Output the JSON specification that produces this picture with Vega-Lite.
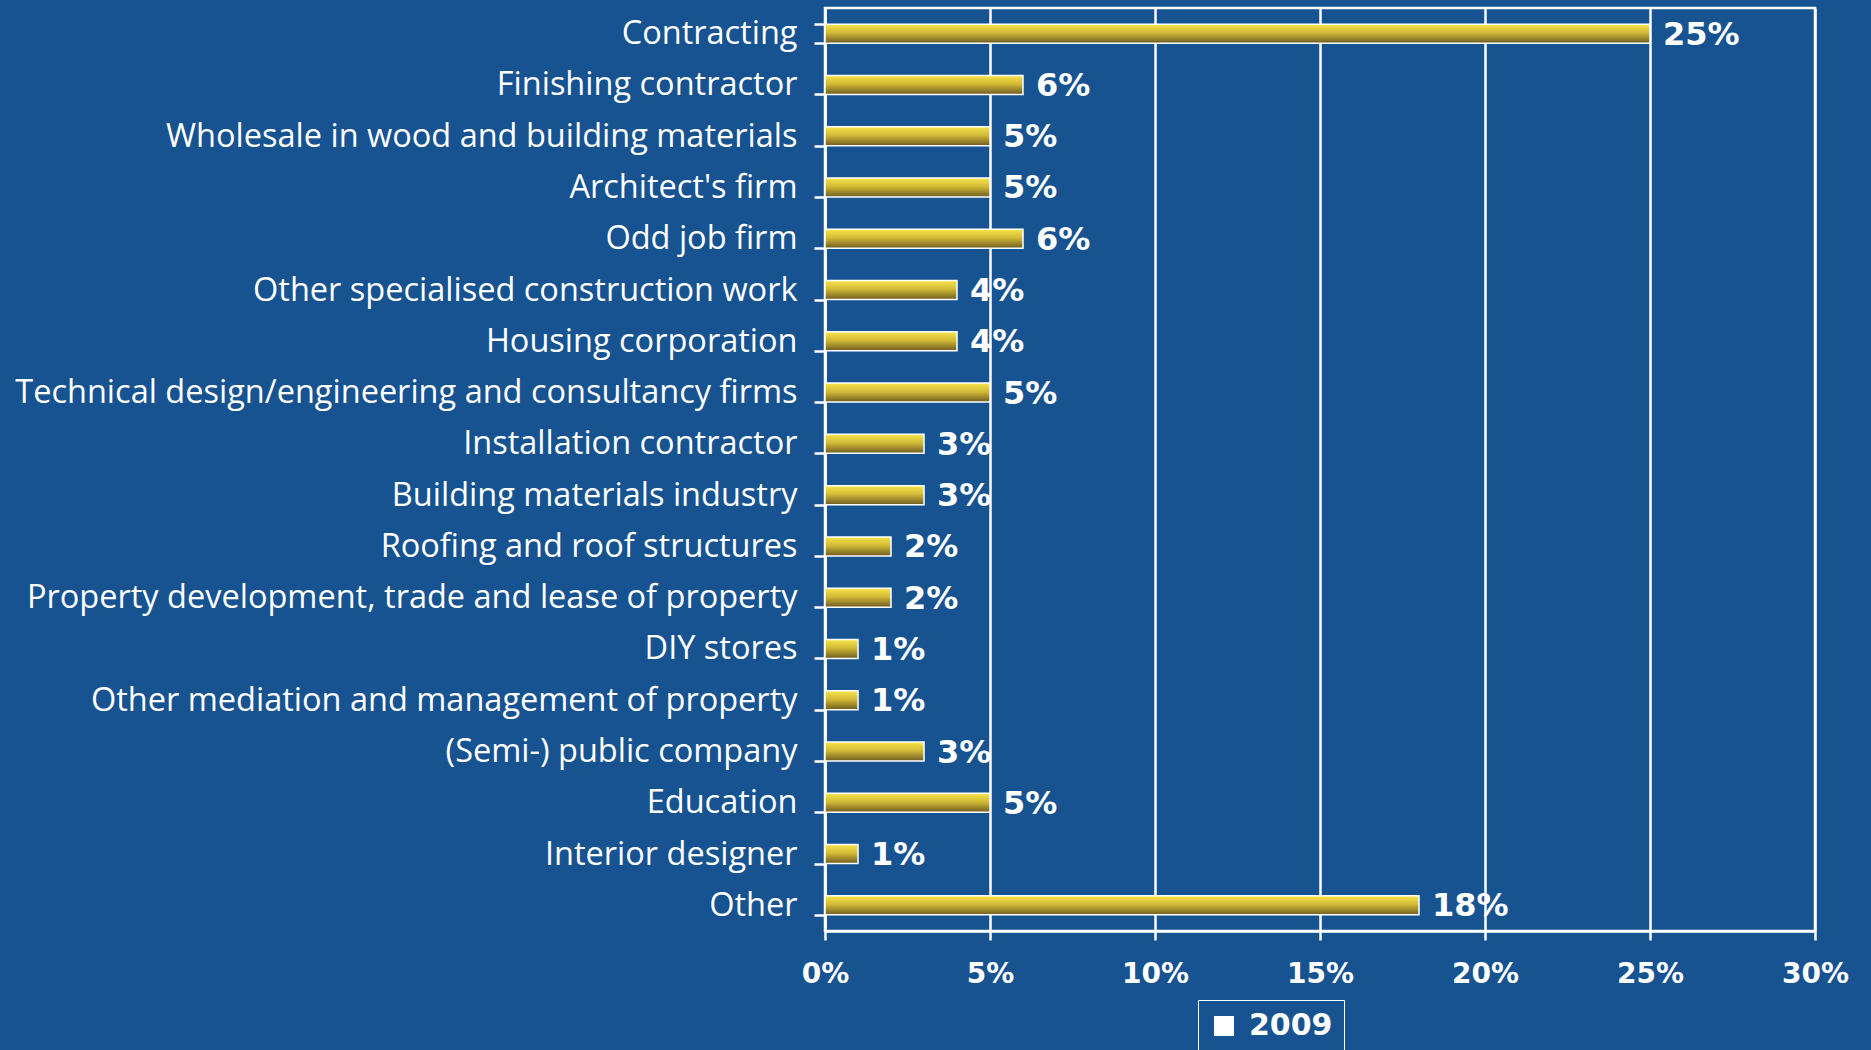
{
  "$schema": "https://vega.github.io/schema/vega-lite/v6.json",
  "width": 990,
  "height": 923,
  "autosize": "none",
  "padding": {"left": 825, "top": 8, "right": 56, "bottom": 119},
  "background": "#175291",
  "config": {
    "view": {"stroke": "white", "strokeWidth": 2.5},
    "axis": {"domainColor": "white", "domainWidth": 2.5, "tickColor": "white", "tickWidth": 2.5, "labelColor": "white"}
  },
  "data": {
    "values": [
      {"category": "Contracting", "value": 0.25, "year": "2009"},
      {"category": "Finishing contractor", "value": 0.06, "year": "2009"},
      {"category": "Wholesale in wood and building materials", "value": 0.05, "year": "2009"},
      {"category": "Architect's firm", "value": 0.05, "year": "2009"},
      {"category": "Odd job firm", "value": 0.06, "year": "2009"},
      {"category": "Other specialised construction work", "value": 0.04, "year": "2009"},
      {"category": "Housing corporation", "value": 0.04, "year": "2009"},
      {"category": "Technical design/engineering and consultancy firms", "value": 0.05, "year": "2009"},
      {"category": "Installation contractor", "value": 0.03, "year": "2009"},
      {"category": "Building materials industry", "value": 0.03, "year": "2009"},
      {"category": "Roofing and roof structures", "value": 0.02, "year": "2009"},
      {"category": "Property development, trade and lease of property", "value": 0.02, "year": "2009"},
      {"category": "DIY stores\u00a0", "value": 0.01, "year": "2009"},
      {"category": "Other mediation and management of property", "value": 0.01, "year": "2009"},
      {"category": "(Semi-) public company", "value": 0.03, "year": "2009"},
      {"category": "Education", "value": 0.05, "year": "2009"},
      {"category": "Interior designer", "value": 0.01, "year": "2009"},
      {"category": "Other", "value": 0.18, "year": "2009"}
    ]
  },
  "encoding": {
    "y": {
      "field": "category",
      "type": "nominal",
      "sort": null,
      "scale": {"paddingInner": 0.63, "paddingOuter": 0.315},
      "axis": {
        "title": null,
        "tickBand": "extent",
        "tickSize": 11,
        "labelPadding": 17,
        "labelFont": "Open Sans",
        "labelFontSize": 32.5,
        "labelLimit": 1000,
        "grid": false
      }
    },
    "x": {
      "field": "value",
      "type": "quantitative",
      "scale": {"domain": [0, 0.3], "nice": false},
      "axis": {
        "title": null,
        "values": [0, 0.05, 0.1, 0.15, 0.2, 0.25, 0.3],
        "format": ".0%",
        "grid": true,
        "gridColor": "white",
        "gridWidth": 2.5,
        "gridOpacity": 1,
        "tickSize": 9,
        "labelPadding": 20,
        "labelFlush": false,
        "labelFont": "DejaVu Sans",
        "labelFontWeight": "bold",
        "labelFontSize": 28
      }
    }
  },
  "layer": [
    {
      "mark": {
        "type": "bar",
        "stroke": "white",
        "strokeWidth": 1.5,
        "color": {"gradient": "linear", "x1": 0, "y1": 0, "x2": 0, "y2": 1,
          "stops": [
            {"offset": 0, "color": "#f7e54c"},
            {"offset": 0.45, "color": "#d2ba36"},
            {"offset": 1, "color": "#6e5c22"}
          ]}
      }
    },
    {
      "mark": {
        "type": "text",
        "align": "left",
        "baseline": "middle",
        "dx": 13,
        "dy": 1,
        "color": "white",
        "font": "DejaVu Sans",
        "fontWeight": "bold",
        "fontSize": 32
      },
      "encoding": {
        "text": {"field": "value", "type": "quantitative", "format": ".0%"},
        "opacity": {
          "field": "year",
          "type": "nominal",
          "scale": {"domain": ["2009"], "range": [1]},
          "legend": {
            "title": null,
            "orient": "none",
            "legendX": 373,
            "legendY": 992,
            "strokeColor": "white",
            "padding": 11,
            "symbolType": "square",
            "symbolSize": 400,
            "symbolStrokeColor": "white",
            "symbolStrokeWidth": 1.5,
            "labelColor": "white",
            "labelFont": "DejaVu Sans",
            "labelFontWeight": "bold",
            "labelFontSize": 30,
            "labelOffset": 10,
            "encode": {
              "legend": {
                "update": {
                  "strokeWidth": {"value": 2}
                }
              },
              "symbols": {
                "update": {
                  "fill": {"value": "#c9b236"},
                  "stroke": {"value": "white"},
                  "strokeWidth": {"value": 1.5},
                  "opacity": {"value": 1}
                }
              }
            }
          }
        }
      }
    }
  ]
}
